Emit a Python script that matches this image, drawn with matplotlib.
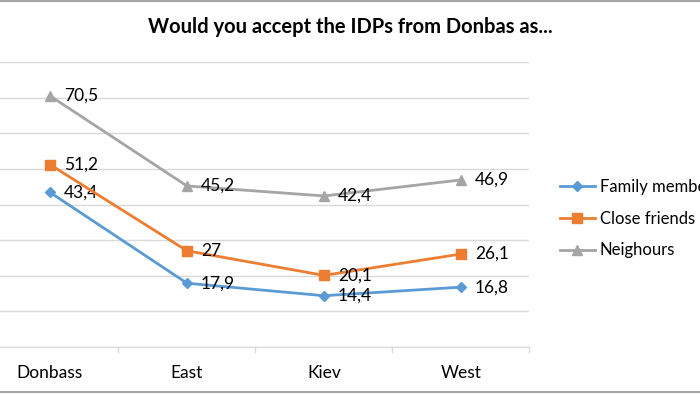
import matplotlib
matplotlib.use("Agg")
import matplotlib.pyplot as plt
from matplotlib.lines import Line2D

plt.rcParams['font.family'] = ['Lato', 'DejaVu Sans']

categories = ["Donbass", "East", "Kiev", "West"]
family = [43.4, 17.9, 14.4, 16.8]
friends = [51.2, 27, 20.1, 26.1]
neighbours = [70.5, 45.2, 42.4, 46.9]
labels_family = ["43,4", "17,9", "14,4", "16,8"]
labels_friends = ["51,2", "27", "20,1", "26,1"]
labels_neigh = ["70,5", "45,2", "42,4", "46,9"]
series_names = ["Family members", "Close friends", "Neighours"]

W, H = 700, 394
fig = plt.figure(figsize=(7, 3.94), dpi=100)
ax = fig.add_axes([-18.5 / W, 1 - 347 / H, 548 / W, 285 / H])

colors = ["#5B9BD5", "#ED7D31", "#A5A5A5"]
markers = ["D", "s", "^"]
msizes = [5, 7, 7]
x = list(range(len(categories)))
for vals, labs, c, m, ms, name in zip([family, friends, neighbours],
                                      [labels_family, labels_friends, labels_neigh],
                                      colors, markers, msizes, series_names):
    ax.plot(x, vals, color=c, lw=2, marker=m, ms=ms, label=name, zorder=3)
    for xi, v, t in zip(x, vals, labs):
        ax.annotate(t, (xi, v), xytext=(10, 0), textcoords="offset points",
                    va="center", ha="left", fontsize=12.5, color="#000000")

ax.set_xlim(-0.5, 3.5)
ax.set_ylim(0, 80)
ax.set_yticks(range(0, 81, 10))
ax.yaxis.grid(True, color="#D9D9D9", lw=1)
ax.set_axisbelow(True)
ax.tick_params(axis="y", left=False, labelleft=False)
ax.set_xticks(x)
ax.set_xticklabels(categories, fontsize=12.5)
ax.tick_params(axis="x", length=0, pad=13)
for xb in [0.5, 1.5, 2.5, 3.5]:
    ax.plot([xb, xb], [0, -1.3], color="#D9D9D9", lw=1, clip_on=False)
for s in ["top", "right", "left"]:
    ax.spines[s].set_visible(False)
ax.spines["bottom"].set_color("#D9D9D9")

fig.text(350 / W, 1 - 27 / H, "Would you accept the IDPs from Donbas as...",
         ha="center", va="center", fontsize=14.5, fontweight="bold")

handles = [Line2D([0], [0], color=c, lw=2, marker=m, ms=ms) for c, m, ms in zip(colors, markers, msizes)]
fig.legend(handles, series_names, loc="upper left", bbox_to_anchor=(548 / W, 1 - 167 / H),
           frameon=False, fontsize=12, handlelength=2.1, labelspacing=0.95, handletextpad=0.3,
           borderaxespad=0.3)

fig.add_artist(Line2D([0, 1], [1 - 1 / H, 1 - 1 / H], color="#A6A6A6", lw=1.5, transform=fig.transFigure))
fig.add_artist(Line2D([0, 1], [1 - 392 / H, 1 - 392 / H], color="#A6A6A6", lw=1.5, transform=fig.transFigure))

fig.savefig("out.png", dpi=100)
